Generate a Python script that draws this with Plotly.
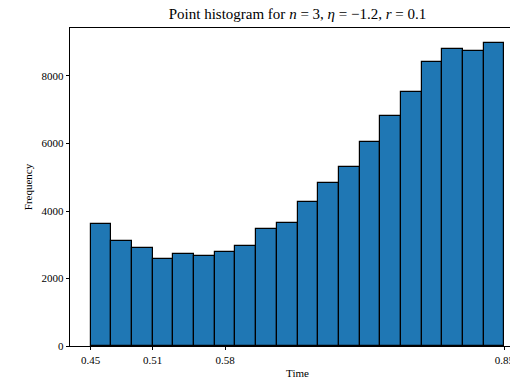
import numpy as np
import plotly.graph_objects as go

bin_start = 0.45
bin_width = 0.02
counts = [3615, 3102, 2894, 2578, 2716, 2676, 2795, 2973, 3467, 3654,
          4276, 4830, 5304, 6044, 6815, 7526, 8405, 8790, 8750, 8968]
x_tick_vals = [0.45, 0.51, 0.58, 0.85]
x_tick_text = ["0.45", "0.51", "0.58", "0.85"]
y_tick_vals = [0, 2000, 4000, 6000, 8000]

centers = [bin_start + bin_width * (i + 0.5) for i in range(len(counts))]

FONT = "Liberation Serif"

fig = go.Figure(go.Bar(
    x=centers, y=counts, width=[bin_width] * len(counts),
    marker=dict(color="#1f77b4", line=dict(color="black", width=1.2)),
))

W, H = 560, 381
fig.update_layout(
    width=W, height=H,
    margin=dict(l=70, r=W - 525, t=28, b=35),
    plot_bgcolor="white", paper_bgcolor="white",
    bargap=0, showlegend=False,
    font=dict(family=FONT, size=11, color="black"),
    title=dict(text="Point histogram for <i>n</i> = 3, <i>η</i> = −1.2, <i>r</i> = 0.1",
               x=297.5 / W, xanchor="center", y=1 - 14 / H, yanchor="middle",
               font=dict(family=FONT, size=15, color="black")),
    xaxis=dict(range=[0.43, 0.87], tickmode="array", tickvals=x_tick_vals, ticktext=x_tick_text,
               showline=True, linecolor="black", linewidth=0.8, mirror=True,
               ticks="outside", ticklen=3.5, tickwidth=0.8, tickcolor="black",
               showgrid=False, zeroline=False, automargin=False,
               title=dict(text="Time", standoff=4, font=dict(family=FONT, size=11))),
    yaxis=dict(range=[0, 9422], tickmode="array", tickvals=y_tick_vals,
               showline=True, linecolor="black", linewidth=0.8, mirror=True,
               ticks="outside", ticklen=3.5, tickwidth=0.8, tickcolor="black",
               showgrid=False, zeroline=False, automargin=False,
               title=dict(text="Frequency", standoff=6, font=dict(family=FONT, size=11))),
)

fig.write_html("out.html", post_script="document.body.style.overflow='hidden';document.body.style.margin='0';")
